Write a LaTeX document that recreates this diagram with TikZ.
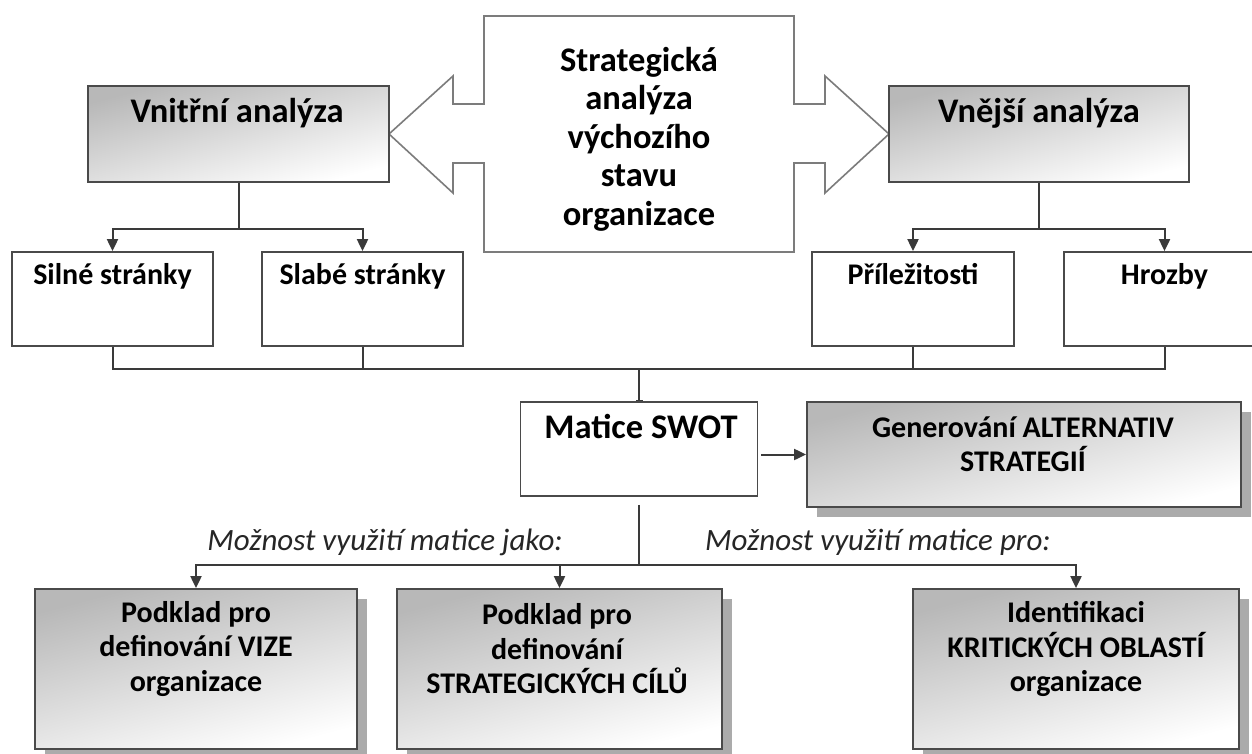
\documentclass[tikz,border=0pt]{standalone}
\usepackage{fontspec}
\setmainfont{Carlito}
\usetikzlibrary{arrows.meta,shadows}
\definecolor{edge}{HTML}{4A4A4A}
\definecolor{wire}{HTML}{3A3A3A}
\definecolor{outline}{HTML}{7C7C7C}
\definecolor{shadowgray}{HTML}{ABABAB}
\begin{document}
\begin{tikzpicture}[x=1pt,y=-1pt,
  box/.style={draw=edge,line width=1.8pt,inner sep=0pt,rectangle},
  whitebox/.style={box,fill=white},
  gradbox/.style={box,top color=black!28,bottom color=white,shading angle=15},
  shadowbox/.style={gradbox,drop shadow={shadow xshift=10pt,shadow yshift=-10pt,fill=shadowgray,opacity=1}},
  big/.style={font=\fontsize{34.5}{38.5}\selectfont\bfseries},
  mid/.style={font=\fontsize{30}{36}\selectfont\bfseries},
  small/.style={font=\fontsize{30}{34.5}\selectfont\bfseries,align=center},
  note/.style={font=\fontsize{31}{34}\selectfont\itshape,text=black!85},
  conn/.style={draw=wire,line width=2pt},
  arr/.style={conn,-{Triangle[length=12pt,width=11pt]}},
]
\clip (0,0) rectangle (1252,754);
\fill[white] (0,0) rectangle (1252,754);

% central double arrow
\draw[outline,line width=1.6pt,fill=white,line join=miter]
  (484,16) -- (794,16) -- (794,104) -- (825,104) -- (825,76) -- (889,134)
  -- (825,193) -- (825,163) -- (794,163) -- (794,252) -- (484,252)
  -- (484,163) -- (453,163) -- (453,193) -- (389,134) -- (453,76)
  -- (453,104) -- (484,104) -- cycle;
\node[big,align=center] (strat) at (639,139)
  {Strategická\\analýza\\výchozího\\stavu\\organizace};

% analysis boxes
\node[gradbox,minimum width=301pt,minimum height=96pt] (vnitr) at (238.5,134) {};
\node[big,anchor=base] (vnitrT) at (237,123) {Vnitřní analýza};
\node[gradbox,minimum width=300pt,minimum height=96pt] (vnejsi) at (1039,134) {};
\node[big,anchor=base] (vnejsiT) at (1039,123) {Vnější analýza};

% SWOT elements
\node[whitebox,minimum width=201pt,minimum height=94pt] (silne) at (112.5,299) {};
\node[mid,anchor=base] (silneT) at (112.5,284) {Silné stránky};
\node[whitebox,minimum width=201pt,minimum height=94pt] (slabe) at (362.5,299) {};
\node[mid,anchor=base] (slabeT) at (362.5,284) {Slabé stránky};
\node[whitebox,minimum width=202pt,minimum height=94pt] (prilez) at (913,299) {};
\node[mid,anchor=base] (prilezT) at (913,284) {Příležitosti};
\node[whitebox,minimum width=201pt,minimum height=94pt] (hrozby) at (1164.5,299) {};
\node[mid,anchor=base] (hrozbyT) at (1164.5,284) {Hrozby};

% matrix and alternatives
\node[whitebox,minimum width=237pt,minimum height=94pt] (swot) at (639,449) {};
\node[big,anchor=base] (swotT) at (641,438) {Matice SWOT};
\node[shadowbox,minimum width=434pt,minimum height=105pt] (gen) at (1024,454.5) {};
\node[small] (genT) at (1023,444) {Generování ALTERNATIV\\STRATEGIÍ};

% uses of the matrix
\node[shadowbox,minimum width=322pt,minimum height=160pt] (pod1) at (196,669) {};
\node[small] (pod1T) at (196,649) {Podklad pro\\definování VIZE\\organizace};
\node[shadowbox,minimum width=325pt,minimum height=160pt] (pod2) at (559.5,669) {};
\node[small] (pod2T) at (557,649) {Podklad pro\\definování\\STRATEGICKÝCH CÍLŮ};
\node[shadowbox,minimum width=326pt,minimum height=160pt] (ident) at (1076,669) {};
\node[small] (identT) at (1076,649) {Identifikaci\\KRITICKÝCH OBLASTÍ\\organizace};

\node[note,anchor=base] (jako) at (385,550) {Možnost využití matice jako:};
\node[note,anchor=base] (pro) at (878,550) {Možnost využití matice pro:};

% connectors
\draw[conn] (vnitr.south) -- ++(0,46) coordinate (jl);
\draw[arr] (jl) -| (silne.north);
\draw[arr] (jl) -| (slabe.north);
\draw[conn] (vnejsi.south) -- ++(0,46) coordinate (jr);
\draw[arr] (jr) -| (prilez.north);
\draw[arr] (jr) -| (hrozby.north);

\coordinate (bus) at (639,369);
\draw[conn] (silne.south) |- (hrozby.south |- bus) -- (hrozby.south);
\draw[conn] (slabe.south) -- (slabe.south |- bus);
\draw[conn] (prilez.south) -- (prilez.south |- bus);
\draw[conn,-{Bar[width=7pt,line width=1.5pt]}] (bus) -- (swot.north);

\draw[arr,shorten <=3pt] (swot.east |- gen.west) -- (gen.west);

\coordinate (fork) at (639,565);
\draw[conn] ([yshift=-8pt]swot.south) -- (fork);
\draw[arr] (fork) -| (pod1.north);
\draw[arr] (fork) -| (pod2.north);
\draw[arr] (fork) -| (ident.north);
\end{tikzpicture}
\end{document}
